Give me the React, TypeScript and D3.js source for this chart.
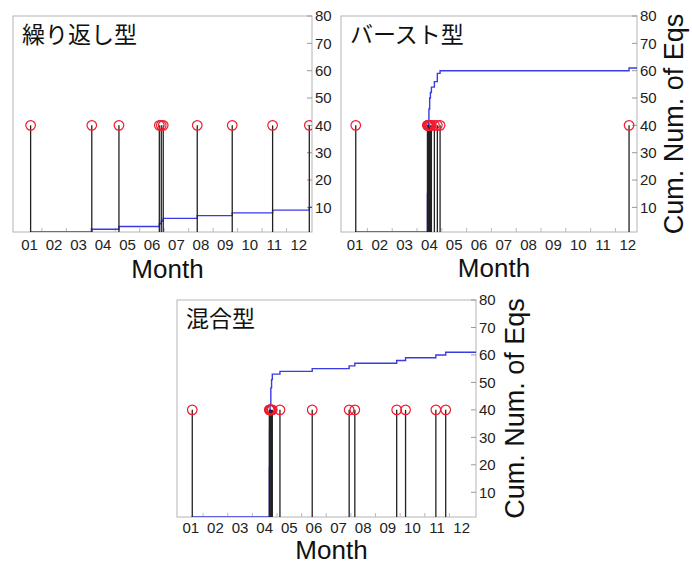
import React from 'react';
import * as d3 from 'd3';

const MONTH_LABELS = ['01', '02', '03', '04', '05', '06', '07', '08', '09', '10', '11', '12'];
const MONTH_POS = [1, 2, 3, 4, 5, 6, 7, 8, 9, 10, 11, 12];
const Y_TICKS = [10, 20, 30, 40, 50, 60, 70, 80];
const STEM_VALUE = 40;
const X_TITLE = 'Month';
const Y_TITLE = 'Cum. Num. of Eqs';
const PANEL_TITLES = ['繰り返し型', 'バースト型', '混合型'];

// event times (month units, label m centred at m) and number of events at that time
const repeatTimes = [1.04, 3.54, 4.65, 6.3, 6.38, 6.46, 7.85, 9.28, 10.93, 12.43];
const repeatCounts = [1, 1, 1, 1, 1, 1, 1, 1, 1, 1];

const burstTimes = [1.03, 3.92, 3.93, 3.94, 3.96, 3.98, 4.01, 4.04, 4.08, 4.2, 4.32, 4.43, 12.05];
const burstCounts = [1, 14, 12, 8, 6, 5, 4, 2, 2, 2, 3, 1, 1];

const mixedTimes = [1.06, 4.19, 4.2, 4.22, 4.25, 4.28, 4.31, 4.62, 5.93, 7.43, 7.66, 9.36, 9.72, 10.95, 11.35];
const mixedCounts = [1, 18, 14, 9, 6, 3, 2, 1, 1, 1, 1, 1, 1, 1, 1];

const LATIN = '"Liberation Sans", Arial, Helvetica, sans-serif';
const CJK = '"Noto Sans CJK JP", "Noto Sans CJK SC", sans-serif';

type PanelProps = {
  id: string;
  title: string;
  times: number[];
  counts: number[];
  x: number;
  y: number;
  w: number;
  h: number;
  xDomain: [number, number];
  showYTitle: boolean;
  monthLabelDy: number;
  monthTitleDy: number;
  yTitleDx: number;
};

function Panel(p: PanelProps) {
  const xs = d3.scaleLinear().domain(p.xDomain).range([p.x, p.x + p.w]);
  const ys = d3.scaleLinear().domain([1, 80]).range([p.y + p.h, p.y]);
  const cum = d3.cumsum(p.counts);
  const pts: [number, number][] = [[p.xDomain[0], 0]];
  p.times.forEach((t, i) => pts.push([t, cum[i]]));
  pts.push([p.xDomain[1], cum[cum.length - 1]]);
  const line = d3
    .line<[number, number]>()
    .x((d) => xs(d[0]))
    .y((d) => ys(d[1]))
    .curve(d3.curveStepAfter);
  const bottom = p.y + p.h;
  const right = p.x + p.w;
  const boundaries = d3.range(1, 12).map((m) => m + 0.5);
  return (
    <g>
      <defs>
        <clipPath id={p.id}>
          <rect x={p.x} y={p.y} width={p.w} height={p.h} />
        </clipPath>
      </defs>
      <rect x={p.x} y={p.y} width={p.w} height={p.h} fill="#fff" stroke="#b4b4b4" strokeWidth={1} />
      {boundaries.map((b) => (
        <line key={b} x1={xs(b)} x2={xs(b)} y1={bottom} y2={bottom - 4} stroke="#b8b8c8" strokeWidth={1} />
      ))}
      {Y_TICKS.map((v) => (
        <line key={v} x1={right} x2={right - 5} y1={ys(v)} y2={ys(v)} stroke="#999" strokeWidth={1} />
      ))}
      <g clipPath={`url(#${p.id})`}>
        <path d={line(pts) || ''} fill="none" stroke="#3a3ae6" strokeWidth={1.4} />
        {p.times.map((t, i) => (
          <line key={'s' + i} x1={xs(t)} x2={xs(t)} y1={bottom} y2={ys(STEM_VALUE)} stroke="#222" strokeWidth={1.3} />
        ))}
        {p.times.map((t, i) => (
          <circle key={'c' + i} cx={xs(t)} cy={ys(STEM_VALUE)} r={4.8} fill="none" stroke="#f01c30" strokeWidth={1.2} />
        ))}
      </g>
      {Y_TICKS.map((v) => (
        <text key={'l' + v} x={right + 3} y={ys(v)} dy="0.36em" fontFamily={LATIN} fontSize={15} fill="#222">
          {v}
        </text>
      ))}
      {MONTH_POS.map((m, i) => (
        <text key={'m' + m} x={xs(m)} y={bottom + p.monthLabelDy} textAnchor="middle" fontFamily={LATIN} fontSize={15} fill="#222">
          {MONTH_LABELS[i]}
        </text>
      ))}
      <text x={p.x + p.w / 2 + 5} y={bottom + p.monthTitleDy} textAnchor="middle" fontFamily={LATIN} fontSize={26} fill="#111">
        {X_TITLE}
      </text>
      {p.showYTitle && (
        <text
          transform={`translate(${right + p.yTitleDx},${p.y + p.h / 2}) rotate(-90)`}
          textAnchor="middle"
          fontFamily={LATIN}
          fontSize={27}
          fill="#111"
        >
          {Y_TITLE}
        </text>
      )}
      <text x={p.x + 9} y={p.y + 27} fontFamily={CJK} fontSize={23} fill="#111">
        {p.title}
      </text>
    </g>
  );
}

export default function App() {
  return (
    <svg width={692} height={565} style={{ position: 'absolute', left: 0, top: 0, background: '#fff' }}>
      <rect x={0} y={0} width={692} height={565} fill="#fff" />
      <Panel
        id="clipA"
        title={PANEL_TITLES[0]}
        times={repeatTimes}
        counts={repeatCounts}
        x={13}
        y={16}
        w={299}
        h={216}
        xDomain={[0.32, 12.54]}
        showYTitle={false}
        monthLabelDy={18}
        monthTitleDy={46}
        yTitleDx={46}
      />
      <Panel
        id="clipB"
        title={PANEL_TITLES[1]}
        times={burstTimes}
        counts={burstCounts}
        x={341}
        y={16}
        w={296}
        h={216}
        xDomain={[0.435, 12.37]}
        showYTitle={true}
        monthLabelDy={18}
        monthTitleDy={45}
        yTitleDx={46}
      />
      <Panel
        id="clipC"
        title={PANEL_TITLES[2]}
        times={mixedTimes}
        counts={mixedCounts}
        x={177}
        y={300}
        w={299}
        h={217}
        xDomain={[0.44, 12.58]}
        showYTitle={true}
        monthLabelDy={16}
        monthTitleDy={42}
        yTitleDx={48}
      />
    </svg>
  );
}
